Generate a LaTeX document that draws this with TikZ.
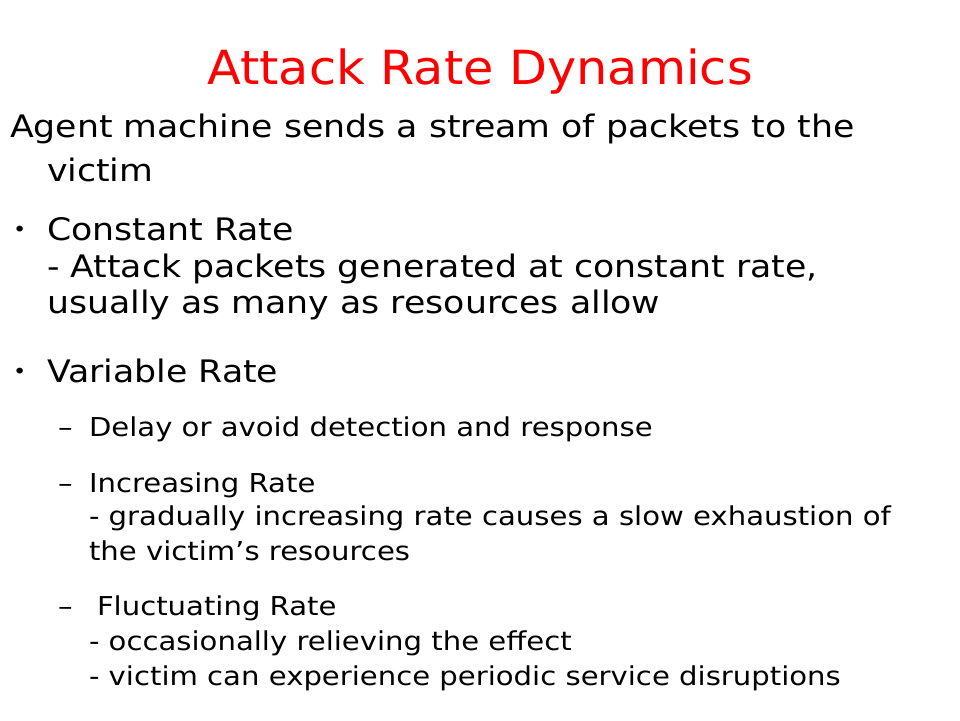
\documentclass[tikz,border=0pt]{standalone}
\usepackage{fontspec}
\setmainfont{DejaVu Sans}[FakeStretch=1.12]
\newfontfamily\titlefont{DejaVu Sans}[FakeStretch=1.05]
\begin{document}
\begin{tikzpicture}[x=1pt,y=-1pt,
  every node/.style={inner sep=0pt,outer sep=0pt,anchor=base west},
  titletxt/.style={font=\titlefont\fontsize{47}{47}\selectfont,text=red,anchor=base},
  maintxt/.style={font=\fontsize{31}{31}\selectfont},
  bullettxt/.style={font=\fontsize{20}{20}\selectfont},
  subtxt/.style={font=\fontsize{26}{26}\selectfont}]
\useasboundingbox[fill=white] (0,0) rectangle (960,720);
\node[titletxt] (title) at (480,84) {Attack Rate Dynamics};
\node[maintxt] (l1) at (10,137) {Agent machine sends a stream of packets to the};
\node[maintxt] (l2) at (47,181) {victim};
\node[bullettxt] (b1) at (13,236) {•};
\node[maintxt] (l3) at (47,240) {Constant Rate};
\node[maintxt] (l4) at (47,277) {- Attack packets generated at constant rate,};
\node[maintxt] (l5) at (47,313) {usually as many as resources allow};
\node[bullettxt] (b2) at (13,378) {•};
\node[maintxt] (l6) at (47,382) {Variable Rate};
\node[subtxt] (d1) at (58,436) {–};
\node[subtxt] (s1) at (89,436) {Delay or avoid detection and response};
\node[subtxt] (d2) at (58,492) {–};
\node[subtxt] (s2) at (89,492) {Increasing Rate};
\node[subtxt] (s3) at (89,525) {- gradually increasing rate causes a slow exhaustion of};
\node[subtxt] (s4) at (89,560) {the victim’s resources};
\node[subtxt] (d3) at (58,615) {–};
\node[subtxt] (s5) at (97,615) {Fluctuating Rate};
\node[subtxt] (s6) at (89,650) {- occasionally relieving the effect};
\node[subtxt] (s7) at (89,685) {- victim can experience periodic service disruptions};
\end{tikzpicture}
\end{document}
